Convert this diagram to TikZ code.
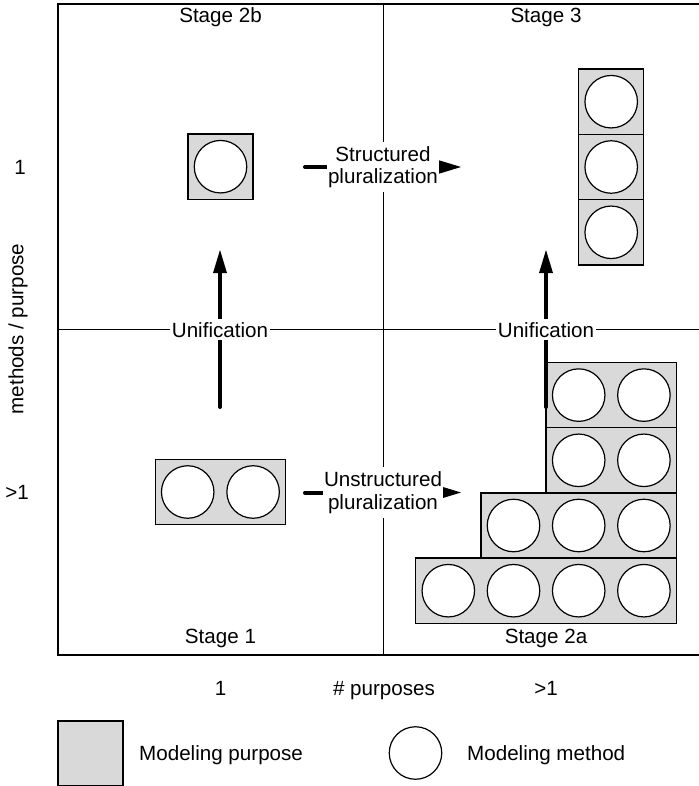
\documentclass[tikz,border=0pt]{standalone}
\usepackage{fontspec}
\setmainfont{Liberation Sans}
\usetikzlibrary{arrows.meta}
\definecolor{boxgray}{RGB}{217,217,217}
\begin{document}
\begin{tikzpicture}[x=1pt,y=-1pt,
  font=\fontsize{20.6}{22.6}\selectfont,
  purpose/.style={draw=black, line width=1.3pt, fill=boxgray, minimum height=65.2pt, minimum width=65.2pt, inner sep=0pt},
  method/.style={draw=black, line width=1.2pt, fill=white, circle, minimum size=52.5pt, inner sep=0pt},
  frameline/.style={line width=1.5pt},
  flow/.style={line width=4pt, line cap=round, -{Triangle[length=23pt,width=14pt,line width=0pt]}},
  flowlabel/.style={fill=white, align=center, inner xsep=1pt, inner ysep=4.5pt},
  unilabel/.style={fill=white, inner xsep=2pt, inner ysep=3pt},
  lbl/.style={inner sep=0pt, anchor=base}]
\useasboundingbox (0,0) rectangle (698,786);
% frame and grid
\draw[frameline] (699,4) -- (58,4) -- (58,655) -- (699,655);
\draw[frameline] (383.3,4) -- (383.3,655);
\draw[frameline] (58,329.7) -- (699,329.7);
% Stage 2b
\node[purpose] (p2b) at (220.5,166.7) {};
\node[method] (m2b) at (p2b.center) {};
% Stage 3
\node[purpose] (p3a) at (611.2,101.7) {};
\node[purpose] (p3b) at (611.2,167) {};
\node[purpose] (p3c) at (611.2,232.3) {};
\node[method] (m3a) at (p3a.center) {};
\node[method] (m3b) at (p3b.center) {};
\node[method] (m3c) at (p3c.center) {};
% Stage 1
\node[purpose, minimum width=130.5pt] (p1) at (220.4,492) {};
\node[method] (m1a) at (187.7,492) {};
\node[method] (m1b) at (253.1,492) {};
% Stage 2a
\node[purpose, minimum width=130.4pt] (r1) at (611.3,395.1) {};
\node[purpose, minimum width=130.4pt] (r2) at (611.3,460.3) {};
\node[purpose, minimum width=195.6pt] (r3) at (578.7,525.5) {};
\node[purpose, minimum width=260.8pt] (r4) at (546.1,590.7) {};
\foreach \x [count=\i] in {578.7,643.9} {
  \node[method] (ma\i) at (\x,395.1) {};
  \node[method] (mb\i) at (\x,460.3) {};
}
\foreach \x [count=\i] in {513.5,578.7,643.9} {
  \node[method] (mc\i) at (\x,525.5) {};
}
\foreach \x [count=\i] in {448.3,513.5,578.7,643.9} {
  \node[method] (md\i) at (\x,590.7) {};
}
% arrows
\coordinate (s0) at (305,167);
\coordinate (s1) at (461,167);
\coordinate (u0) at (305,492.5);
\coordinate (u1) at (461,492.5);
\coordinate (v0) at (220,407);
\coordinate (v1) at (220,250);
\coordinate (w0) at (546,407);
\coordinate (w1) at (546,250);
\draw[flow] (s0) -- (s1);
\draw[flow] (u0) -- (u1);
\draw[flow] (v0) -- (v1);
\draw[flow] (w0) -- (w1);
\node[flowlabel] (slab) at (383,167) {Structured\\pluralization};
\node[flowlabel] (ulab) at (383,492.5) {Unstructured\\pluralization};
\node[unilabel] (vlab) at (220,329.7) {Unification};
\node[unilabel] (wlab) at (546,329.7) {Unification};
% stage labels
\node[lbl] (t2b) at (220.5,23) {Stage 2b};
\node[lbl] (t3) at (546,23) {Stage 3};
\node[lbl] (t1) at (220.5,643.7) {Stage 1};
\node[lbl] (t2a) at (546,643.7) {Stage 2a};
% axis labels
\node[lbl] (x1) at (220.5,695) {1};
\node[lbl] (xl) at (384,695) {\# purposes};
\node[lbl] (x2) at (546,695) {>1};
\node[lbl] (y1) at (20,174.5) {1};
\node[lbl] (y2) at (17,499.5) {>1};
\node[rotate=90, inner sep=0pt] (yl) at (18,329) {methods / purpose};
% legend
\node[purpose] (lp) at (90.5,753.5) {};
\node[lbl, anchor=base west] (lpt) at (139,760.4) {Modeling purpose};
\node[method] (lm) at (415.5,753) {};
\node[lbl, anchor=base west] (lmt) at (467,760.4) {Modeling method};
\end{tikzpicture}
\end{document}
